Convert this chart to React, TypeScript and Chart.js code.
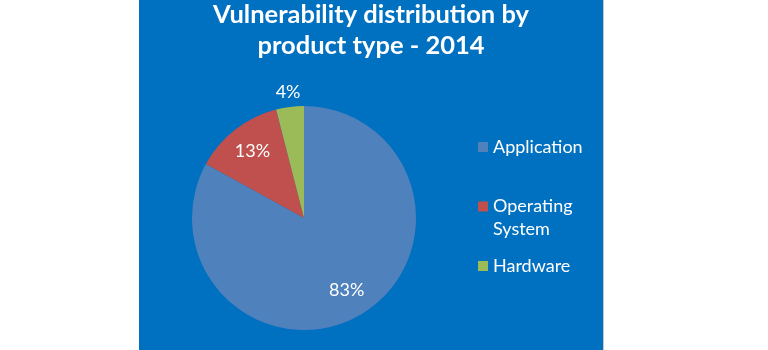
import React, { useEffect, useRef } from "react";
import { Chart, registerables } from "chart.js";

Chart.register(...registerables);

const titleLines = ["Vulnerability distribution by", "product type - 2014"];
const categories = ["Application", "Operating System", "Hardware"];
const legendLines = [["Application"], ["Operating", "System"], ["Hardware"]];
const shares = [83, 13, 4];
const sliceColors = ["#4F81BD", "#C0504D", "#9BBB59"];

const PANEL_BG = "#0070C0";
const FONT = "Lato, 'Open Sans', sans-serif";

const panelPlugin = {
  id: "panel",
  beforeDraw(chart: any) {
    const ctx = chart.ctx;
    ctx.save();
    ctx.fillStyle = "#ffffff";
    ctx.fillRect(0, 0, chart.width, chart.height);
    ctx.fillStyle = PANEL_BG;
    ctx.fillRect(139, 0, 464, chart.height);
    ctx.fillStyle = "#c8c8c8";
    ctx.fillRect(603, 0, 1, chart.height);
    ctx.restore();
  },
};

const overlayPlugin = {
  id: "overlay",
  afterDraw(chart: any) {
    const ctx = chart.ctx;
    ctx.save();
    // title
    ctx.fillStyle = "#ffffff";
    ctx.textAlign = "center";
    ctx.textBaseline = "alphabetic";
    ctx.font = `bold 25.5px ${FONT}`;
    titleLines.forEach((t, i) => ctx.fillText(t, 371, 23 + i * 31));

    // data labels
    const meta = chart.getDatasetMeta(0);
    const total = shares.reduce((a, b) => a + b, 0);
    ctx.font = `18px ${FONT}`;
    ctx.textBaseline = "middle";
    meta.data.forEach((arc: any, i: number) => {
      const { x, y, startAngle, endAngle, outerRadius } = arc.getProps(
        ["x", "y", "startAngle", "endAngle", "outerRadius"],
        true
      );
      const mid = (startAngle + endAngle) / 2;
      const pct = (shares[i] / total) * 100;
      const r = pct < 6 ? outerRadius + 15 : outerRadius * 0.75;
      ctx.fillText(`${Math.round(pct)}%`, x + Math.cos(mid) * r, y + Math.sin(mid) * r);
    });

    // legend
    ctx.textAlign = "left";
    ctx.font = `18px ${FONT}`;
    legendLines.forEach((lines, i) => {
      const y0 = 147 + i * 59.5;
      ctx.fillStyle = sliceColors[i];
      ctx.fillRect(478, y0 - 5, 10, 10);
      ctx.fillStyle = "#ffffff";
      lines.forEach((l, j) => ctx.fillText(l, 493, y0 + j * 23));
    });
    ctx.restore();
  },
};

export default function App() {
  const ref = useRef<HTMLCanvasElement>(null);
  useEffect(() => {
    const chart = new Chart(ref.current!, {
      type: "pie",
      data: {
        labels: categories,
        datasets: [
          {
            data: shares,
            backgroundColor: sliceColors,
            borderWidth: 0,
          },
        ],
      },
      options: {
        animation: false,
        responsive: false,
        layout: { padding: { left: 192, right: 352, top: 106, bottom: 20 } },
        plugins: {
          legend: { display: false },
          tooltip: { enabled: false },
          title: { display: false },
        },
      },
      plugins: [panelPlugin, overlayPlugin],
    });
    return () => chart.destroy();
  }, []);
  return (
    <div style={{ position: "fixed", left: 0, top: 0, width: 768, height: 350, background: "#fff" }}>
      <canvas ref={ref} width={768} height={350} style={{ width: 768, height: 350, display: "block" }} />
    </div>
  );
}
